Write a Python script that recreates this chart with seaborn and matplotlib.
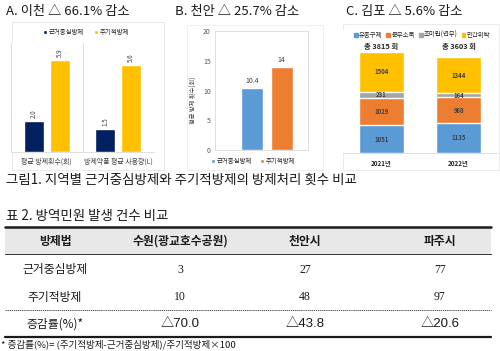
import pandas as pd
import matplotlib.pyplot as plt
import seaborn as sns
from matplotlib.patches import Rectangle, Patch

# ---- data ----
a_items = ['평균 방제횟수(회)', '방제약품 평균 사용량(L)']
a_methods = ['근거중심방제', '주기적방제']
a_evidence = [2.0, 1.5]
a_periodic = [5.9, 5.6]

b_methods = ['근거중심방제', '주기적방제']
b_values = [10.4, 14]

c_years = ['2021년', '2022년']
c_types = ['유충구제', '분무소독', '초미립(연무)', '민간위탁']
c_larva = [1051, 1135]
c_spray = [1029, 960]
c_fog = [231, 164]
c_outsrc = [1504, 1344]

t_header = ['방제법', '수원(광교호수공원)', '천안시', '파주시']
t_rows = ['근거중심방제', '주기적방제', '증감률(%)*']
t_evidence = ['3', '27', '77']
t_periodic = ['10', '48', '97']
t_change = ['△70.0', '△43.8', '△20.6']

NAVY, GOLD = '#002060', '#FFC000'
BLUE, ORANGE, GRAY = '#5B9BD5', '#ED7D31', '#A5A5A5'
LINE = '#D9D9D9'
TXT = '#404040'

sns.set_style('white')
plt.rcParams['font.family'] = ['Noto Sans CJK KR', 'DejaVu Sans']

W, H = 500, 351
fig = plt.figure(figsize=(W / 100, H / 100), dpi=100)


def px(x0, y0, x1, y1):
    return [x0 / W, 1 - y1 / H, (x1 - x0) / W, (y1 - y0) / H]


# overlay in pixel coords for titles, boxes and table
ov = fig.add_axes([0, 0, 1, 1])
ov.set_xlim(0, W)
ov.set_ylim(H, 0)
ov.axis('off')

# ---- panel A ----
ax_a = fig.add_axes(px(11, 43, 154, 152))
df_a = pd.DataFrame({
    '항목': a_items * 2,
    '방법': [a_methods[0]] * 2 + [a_methods[1]] * 2,
    '값': a_evidence + a_periodic,
})
sns.barplot(data=df_a, x='항목', y='값', hue='방법', palette=[NAVY, GOLD],
            width=0.72, gap=0.23, saturation=1, ax=ax_a, legend=False)
ax_a.set_xlim(-0.5, 1.5)
ax_a.set_ylim(0, 7)
ax_a.set_yticks([])
ax_a.set_xlabel('')
ax_a.set_ylabel('')
for s in ['top', 'left', 'right']:
    ax_a.spines[s].set_visible(False)
ax_a.spines['bottom'].set_color(LINE)
ax_a.spines['bottom'].set_linewidth(0.6)
for xv in [-0.5, 0.5, 1.5]:
    ax_a.axvline(xv, color=LINE, lw=0.6)
ax_a.tick_params(axis='x', length=0, pad=4, labelsize=5, labelcolor=TXT)
for c in ax_a.containers:
    ax_a.bar_label(c, fmt='%.1f', rotation=90, padding=2, fontsize=4.5, color=TXT)
ax_a.legend(ax_a.containers, a_methods, loc='center', bbox_to_anchor=(86 / W, 1 - 32 / H),
            bbox_transform=fig.transFigure, ncol=2, frameon=False, fontsize=4.6,
            handlelength=0.6, handleheight=0.6, handletextpad=0.3, columnspacing=1.5)

# ---- panel B ----
ax_b = fig.add_axes(px(215, 31, 308, 150))
df_b = pd.DataFrame({'지역': ['천안'] * 2, '방법': b_methods, '값': b_values})
sns.barplot(data=df_b, x='지역', y='값', hue='방법', palette=[BLUE, ORANGE],
            width=0.634, gap=0.24, saturation=1, ax=ax_b, legend=False)
ax_b.set_xlim(-0.559, 0.441)
ax_b.set_ylim(0, 20)
ax_b.set_yticks([0, 5, 10, 15, 20])
ax_b.set_xticks([])
ax_b.set_xlabel('')
ax_b.set_ylabel('평균 방제 횟수(회)', fontsize=4.5, color=TXT)
ax_b.yaxis.set_label_coords(-0.19, 0.42)
ax_b.tick_params(axis='y', length=0, pad=3, labelsize=5, labelcolor='#595959')
for s in ax_b.spines.values():
    s.set_color(LINE)
    s.set_linewidth(0.6)
for c in ax_b.containers:
    ax_b.bar_label(c, fmt='%g', padding=2, fontsize=5, color=TXT)
ax_b.legend(ax_b.containers, b_methods, loc='center', bbox_to_anchor=(253 / W, 1 - 161 / H),
            bbox_transform=fig.transFigure, ncol=2, frameon=False, fontsize=4.6,
            handlelength=0.6, handleheight=0.6, handletextpad=0.3, columnspacing=1.2)

# ---- panel C (stacked) ----
ax_c = fig.add_axes(px(343, 30, 497, 153))
layers = [c_larva, c_spray, c_fog, c_outsrc]
colors_c = [BLUE, ORANGE, GRAY, GOLD]
cum = []
run = [0, 0]
for vals in layers:
    run = [r + v for r, v in zip(run, vals)]
    cum.append(run)
for k in range(len(layers) - 1, -1, -1):
    df_c = pd.DataFrame({'연도': c_years, '누적': cum[k]})
    sns.barplot(data=df_c, x='연도', y='누적', color=colors_c[k], width=0.58,
                saturation=1, ax=ax_c)
for k, vals in enumerate(layers):
    for i, v in enumerate(vals):
        ax_c.text(i, cum[k][i] - v / 2, str(v), ha='center', va='center',
                  fontsize=4.3, color=TXT, fontweight='bold')
totals = cum[-1]
for i, t in enumerate(totals):
    ax_c.text(i, 4000, f'총 {t} 회', ha='center', va='center', fontsize=5.3,
              fontweight='bold', color='#262626')
ax_c.set_xlim(-0.5, 1.5)
ax_c.set_ylim(0, 4640)
ax_c.set_yticks([])
ax_c.set_xlabel('')
ax_c.set_ylabel('')
for s in ['top', 'left', 'right']:
    ax_c.spines[s].set_visible(False)
ax_c.spines['bottom'].set_color(LINE)
ax_c.spines['bottom'].set_linewidth(0.6)
ax_c.tick_params(axis='x', length=0, pad=5, labelsize=4.5, labelcolor='#262626')
for lab in ax_c.get_xticklabels():
    lab.set_fontweight('bold')
ax_c.legend([Patch(color=c) for c in colors_c], c_types, loc='center',
            bbox_to_anchor=(422 / W, 1 - 35 / H), bbox_transform=fig.transFigure,
            ncol=4, frameon=False, fontsize=4.6, handlelength=0.6, handleheight=0.6,
            handletextpad=0.2, columnspacing=0.6)

# ---- panel boxes and titles ----
ov.add_patch(Rectangle((12, 22), 152, 148, fill=False, ec='#E6E6E6', lw=0.6))
ov.add_patch(Rectangle((187, 25), 136, 145, fill=False, ec='#EDEDED', lw=0.6))
ov.add_patch(Rectangle((343, 24), 156, 146, fill=False, ec='#E6E6E6', lw=0.6))
ov.text(6, 11, 'A. 이천 △ 66.1% 감소', fontsize=9.5, va='center', color='#1a1a1a')
ov.text(175, 11, 'B. 천안 △ 25.7% 감소', fontsize=9.5, va='center', color='#1a1a1a')
ov.text(346, 11, 'C. 김포 △ 5.6% 감소', fontsize=9.5, va='center', color='#1a1a1a')

ov.text(6, 180, '그림1. 지역별 근거중심방제와 주기적방제의 방제처리 횟수 비교',
        fontsize=9.7, va='center', color='#1a1a1a')
ov.text(6, 216, '표 2. 방역민원 발생 건수 비교', fontsize=9.7, va='center', color='#1a1a1a')

# ---- table ----
col_x = [55, 180, 305, 440]
ov.add_patch(Rectangle((5, 227), 486, 27, color='#E8E8E8', lw=0))
ov.plot([5, 491], [227, 227], color='#1a1a1a', lw=1.8)
ov.plot([5, 491], [254, 254], color='#333333', lw=0.7)
ov.plot([5, 491], [310, 310], color='#333333', lw=0.6, ls=(0, (1.5, 1)))
ov.plot([5, 491], [337, 337], color='#1a1a1a', lw=1.6)
for x, h in zip(col_x, t_header):
    ov.text(x, 241, h, ha='center', va='center', fontsize=8.5, fontweight='bold',
            color='#1a1a1a')
row_y = [270, 297, 324]
for y, lab in zip(row_y, t_rows):
    ov.text(col_x[0], y, lab, ha='center', va='center', fontsize=8.5, color='#1a1a1a')
for x, v in zip(col_x[1:], t_evidence):
    ov.text(x, row_y[0], v, ha='center', va='center', fontsize=8.5,
            family=['Liberation Serif'], color='#1a1a1a')
for x, v in zip(col_x[1:], t_periodic):
    ov.text(x, row_y[1], v, ha='center', va='center', fontsize=8.5,
            family=['Liberation Serif'], color='#1a1a1a')
for x, v in zip(col_x[1:], t_change):
    ov.text(x, row_y[2], v, ha='center', va='center', fontsize=9.5,
            family=['Liberation Sans', 'Noto Sans CJK KR'], color='#1a1a1a')
ov.text(1, 344, '* 증감률(%)= (주기적방제-근거중심방제)/주기적방제×100',
        fontsize=6.9, va='center', color='#1a1a1a')

fig.savefig('out.png', dpi=100)
